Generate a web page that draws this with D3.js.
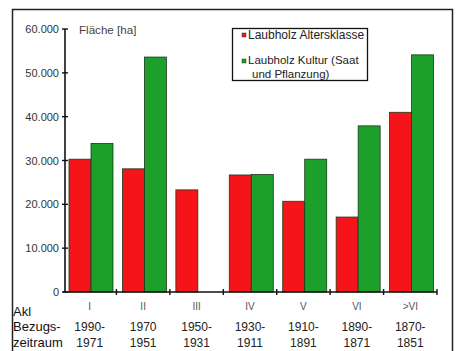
<!DOCTYPE html>
<html><head><meta charset="utf-8">
<script src="https://cdn.jsdelivr.net/npm/d3@7"></script>
<style>body{margin:0;background:#fff;}svg{display:block;font-family:"Liberation Sans",Arial,sans-serif;}</style>
</head><body>
<svg id="c" width="457" height="351"></svg>
<script>
const classes = ["I","II","III","IV","V","VI",">VI"];
const yearsFrom = ["1990-","1970","1950-","1930-","1910-","1890-","1870-"];
const yearsTo = ["1971","1951","1931","1911","1891","1871","1851"];
const altersklasse = [30300, 28100, 23300, 26700, 20700, 17100, 41000];
const kultur = [33900, 53600, null, 26800, 30300, 37900, 54100];
const yTicks = [0,10000,20000,30000,40000,50000,60000];
const seriesNames = ["Laubholz Altersklasse", "Laubholz Kultur (Saat", "und Pflanzung)"];
const colors = {red:"#f41419", green:"#1d9f2c"};

const svg = d3.select("#c");
// frame
svg.append("path").attr("d","M12.5,351 V9.5 H452.5 V351").attr("fill","none").attr("stroke","#222").attr("stroke-width",1.5);

const x = d3.scaleBand().domain(classes).range([63,437]).paddingInner(0).paddingOuter(0);
const y = d3.scaleLinear().domain([0,60000]).range([292,29]);
const sub = d3.scaleBand().domain(["a","k"]).range([6,50]);

const g = svg.append("g");
classes.forEach((c,i)=>{
  [["a",altersklasse[i],colors.red],["k",kultur[i],colors.green]].forEach(([k,v,col])=>{
    if(v==null) return;
    g.append("rect").attr("x",x(c)+sub(k)).attr("y",y(v)).attr("width",sub.bandwidth()).attr("height",y(0)-y(v))
      .attr("fill",col).attr("stroke","#1a3a1a").attr("stroke-width",0.8);
  });
});

// y axis
const ya = svg.append("g").attr("transform","translate(65,0)");
ya.append("line").attr("y1",y(60000)).attr("y2",y(0)).attr("stroke","#111").attr("stroke-width",1.6);
yTicks.forEach(t=>{
  ya.append("line").attr("x1",-3).attr("x2",3).attr("y1",y(t)).attr("y2",y(t)).attr("stroke","#111").attr("stroke-width",1.4);
  ya.append("text").attr("x",-6).attr("y",y(t)+4).attr("text-anchor","end").attr("font-size",11).attr("fill","#333")
    .text(t===0?"0":d3.format(",")(t).replace(",","."));
});
svg.append("text").attr("x",79).attr("y",34).attr("font-size",11.6).attr("fill","#444").text("Fläche [ha]");

// x axis
svg.append("line").attr("x1",63).attr("x2",437).attr("y1",y(0)).attr("y2",y(0)).attr("stroke","#111").attr("stroke-width",1.6);
classes.forEach((c,i)=>{
  const bx = x(c)+x.bandwidth();
  svg.append("line").attr("x1",bx).attr("x2",bx).attr("y1",y(0)-3).attr("y2",y(0)+3).attr("stroke","#111").attr("stroke-width",1.4);
  const cx = x(c)+x.bandwidth()/2;
  svg.append("text").attr("x",cx).attr("y",310).attr("text-anchor","middle").attr("font-size",10).attr("fill","#555").text(c);
  svg.append("text").attr("x",cx).attr("y",331).attr("text-anchor","middle").attr("font-size",12).attr("fill","#222").text(yearsFrom[i]);
  svg.append("text").attr("x",cx).attr("y",347).attr("text-anchor","middle").attr("font-size",12).attr("fill","#222").text(yearsTo[i]);
});
svg.append("text").attr("x",13).attr("y",316).attr("font-size",13).attr("fill","#111").text("Akl");
svg.append("text").attr("x",13).attr("y",331).attr("font-size",13).attr("fill","#111").text("Bezugs-");
svg.append("text").attr("x",13).attr("y",347).attr("font-size",13).attr("fill","#111").text("zeitraum");

// legend
const lg = svg.append("g");
lg.append("rect").attr("x",232.5).attr("y",28.5).attr("width",135).attr("height",52).attr("fill","#fff").attr("stroke","#111").attr("stroke-width",1.3);
lg.append("rect").attr("x",242).attr("y",33).attr("width",4).attr("height",4).attr("fill",colors.red).attr("stroke","#333").attr("stroke-width",0.5);
lg.append("rect").attr("x",242).attr("y",59).attr("width",4).attr("height",4).attr("fill",colors.green).attr("stroke","#333").attr("stroke-width",0.5);
lg.append("text").attr("x",248).attr("y",39).attr("font-size",12).attr("fill","#222").text(seriesNames[0]);
lg.append("text").attr("x",248).attr("y",64).attr("font-size",11.5).attr("fill","#222").text(seriesNames[1]);
lg.append("text").attr("x",252).attr("y",77.5).attr("font-size",11.5).attr("fill","#222").text(seriesNames[2]);
</script>
</body></html>
